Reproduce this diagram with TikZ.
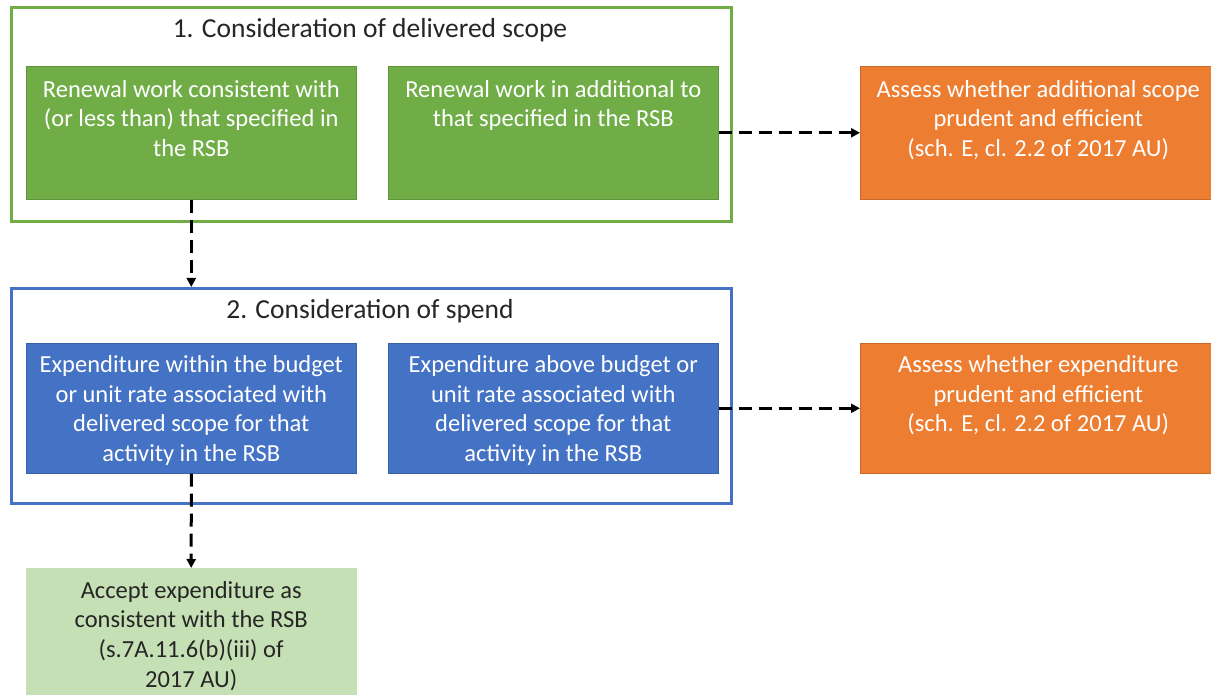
\documentclass[tikz,border=0pt]{standalone}
\usepackage{fontspec}
\setmainfont{Carlito}
\usetikzlibrary{arrows.meta}
\definecolor{cgreen}{HTML}{70AD47}
\definecolor{corange}{HTML}{ED7D31}
\definecolor{cblue}{HTML}{4472C4}
\definecolor{clight}{HTML}{C5E0B4}
\definecolor{ctext}{HTML}{262626}
\newcommand{\boxtext}[4]{\parbox[c][#1][t]{#2}{\centering\rule{0pt}{#3}#4\par}}
\tikzset{
  frame/.style={draw=#1, line width=2.6pt, fill=none},
  card/.style={fill=#1, draw=#1!85!black, line width=0.6pt, inner sep=0pt, font=\fontsize{24.5}{29.7}\selectfont, text=white},
  lightcard/.style={fill=clight, draw=clight, inner sep=0pt, font=\fontsize{24.5}{29.7}\selectfont, text=ctext},
  title/.style={font=\fontsize{27.5}{30}\selectfont, text=ctext, inner sep=0pt},
  flow/.style={draw=black, line width=3pt, dash pattern=on 13pt off 7pt, -{Triangle[length=9pt,width=9pt]}}
}
\begin{document}
\begin{tikzpicture}[x=1pt,y=-1pt]
\useasboundingbox (0,0) rectangle (1211,695);
\clip (0,0) rectangle (1211,695);
\fill[white] (0,0) rectangle (1211,695);
% frames
\node[frame=cgreen, minimum width=720pt, minimum height=214pt, anchor=north west, inner sep=0pt] (f1) at (10,6) {};
\node[frame=cblue, minimum width=720pt, minimum height=215pt, anchor=north west, inner sep=0pt] (f2) at (10,287) {};
\node[title] (t1) at (370,30) {1. Consideration of delivered scope};
\node[title] (t2) at (370,311) {2. Consideration of spend};
% row 1
\node[card=cgreen, anchor=north west] (g1) at (26,66) {\boxtext{133pt}{330pt}{31pt}{Renewal work consistent with\\(or less than) that specified in\\the RSB}};
\node[card=cgreen, anchor=north west] (g2) at (388,66) {\boxtext{133pt}{330pt}{31pt}{Renewal work in additional to\\that specified in the RSB}};
\node[card=corange, anchor=north west] (o1) at (860,66) {\boxtext{133pt}{356pt}{31pt}{Assess whether additional scope\\prudent and efficient\\(sch. E, cl. 2.2 of 2017 AU)}};
% row 2
\node[card=cblue, anchor=north west] (b1) at (26,343) {\boxtext{130pt}{330pt}{29pt}{Expenditure within the budget\\or unit rate associated with\\delivered scope for that\\activity in the RSB}};
\node[card=cblue, anchor=north west] (b2) at (388,343) {\boxtext{130pt}{330pt}{29pt}{Expenditure above budget or\\unit rate associated with\\delivered scope for that\\activity in the RSB}};
\node[card=corange, anchor=north west] (o2) at (860,343) {\boxtext{130pt}{356pt}{29pt}{Assess whether expenditure\\prudent and efficient\\(sch. E, cl. 2.2 of 2017 AU)}};
% row 3
\node[lightcard, anchor=north west] (l1) at (26,568) {\boxtext{140pt}{330pt}{30pt}{Accept expenditure as\\consistent with the RSB\\(s.7A.11.6(b)(iii) of\\2017 AU)}};
% connectors
\draw[flow] (g1.south) -- (g1.south |- f2.north);
\draw[flow] (b1.south) -- (l1.north);
\draw[flow] (g2.east) -- (o1.west |- g2.east);
\draw[flow] (b2.east) -- (o2.west |- b2.east);
\end{tikzpicture}
\end{document}
